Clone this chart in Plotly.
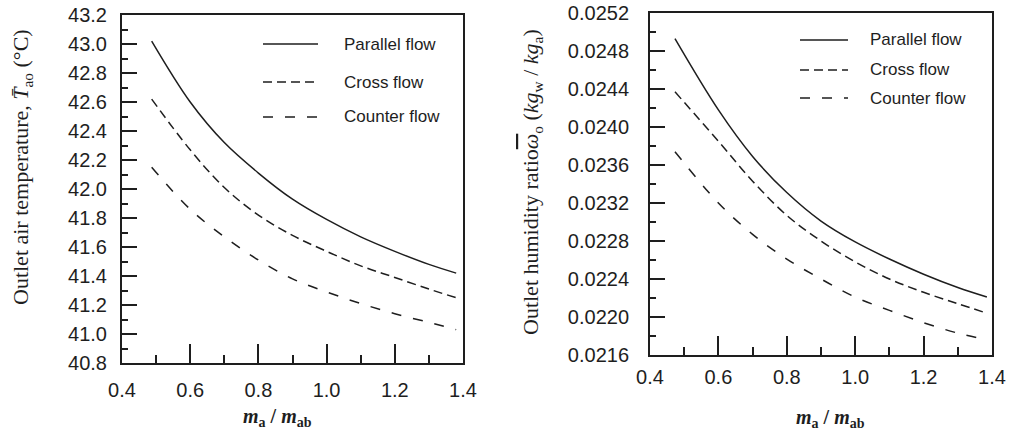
import plotly.graph_objects as go

W, H = 1012, 432

# ---------------- data ----------------
x_left = [0.487, 0.6, 0.7, 0.8, 0.9, 1.0, 1.1, 1.2, 1.3, 1.38]
temp_parallel = [43.02, 42.60, 42.32, 42.11, 41.93, 41.79, 41.67, 41.57, 41.48, 41.42]
temp_cross = [42.62, 42.27, 42.01, 41.82, 41.68, 41.57, 41.47, 41.39, 41.31, 41.25]
temp_counter = [42.15, 41.86, 41.67, 41.51, 41.38, 41.29, 41.21, 41.14, 41.08, 41.03]

x_right = [0.473, 0.6, 0.7, 0.8, 0.9, 1.0, 1.1, 1.2, 1.3, 1.385]
hum_parallel = [0.02493, 0.02418, 0.02369, 0.02331, 0.02301, 0.02279, 0.02261, 0.02245, 0.02231, 0.02221]
hum_cross = [0.02437, 0.02385, 0.02343, 0.02307, 0.02280, 0.02258, 0.02240, 0.02226, 0.02214, 0.02204]
hum_counter = [0.02374, 0.02320, 0.02287, 0.02261, 0.02240, 0.02221, 0.02207, 0.02194, 0.02183, 0.02176]

series_names = ["Parallel flow", "Cross flow", "Counter flow"]
x_title = "<b><i>m</i><sub>a</sub> / <i>m</i><sub>ab</sub></b>"
y_title_left = "Outlet air temperature, <i>T̄</i><sub>ao</sub> (°C)"
y_title_right = ("Outlet humidity ratio<i><span style='text-decoration:overline'>ω</span></i><sub>o</sub>"
                 " (<i>kg</i><sub>w</sub> / <i>kg</i><sub>a</sub>)")

# ---------------- styles ----------------
INK = "#1e1e1e"
dashes = ["solid", "9px,5px", "10px,12px"]
TICKFONT = dict(family="Liberation Sans, Arial, sans-serif", size=20, color=INK)
SERIF = "Liberation Serif, Times New Roman, serif"


def px(x):
    return x / W


def py(y):
    return 1 - y / H


fig = go.Figure()

for ys, name, d in zip([temp_parallel, temp_cross, temp_counter], series_names, dashes):
    fig.add_trace(go.Scatter(x=x_left, y=ys, mode="lines", name=name, showlegend=False,
                             line=dict(color=INK, width=1.5, dash=d, shape="spline"),
                             xaxis="x", yaxis="y"))
for ys, name, d in zip([hum_parallel, hum_cross, hum_counter], series_names, dashes):
    fig.add_trace(go.Scatter(x=x_right, y=ys, mode="lines", name=name, showlegend=False,
                             line=dict(color=INK, width=1.5, dash=d, shape="spline"),
                             xaxis="x2", yaxis="y2"))


def xaxis(domain, anchor, standoff):
    return dict(domain=domain, anchor=anchor, range=[0.4, 1.4], dtick=0.2, tick0=0.4,
                tickformat=".1f", ticks="inside", ticklen=19, tickwidth=2, tickcolor=INK,
                minor=dict(dtick=0.1, tick0=0.4, ticks="inside", ticklen=8, tickwidth=2, tickcolor=INK),
                showline=True, linewidth=2, linecolor=INK, mirror=True,
                showgrid=False, zeroline=False, tickfont=TICKFONT,
                ticklabelstandoff=standoff, automargin=False)


def yaxis(domain, anchor, rng, dt, fmt, mdt, standoff):
    return dict(domain=domain, anchor=anchor, range=rng, dtick=dt, tick0=rng[0],
                tickformat=fmt, ticks="inside", ticklen=15, tickwidth=2, tickcolor=INK,
                minor=dict(dtick=mdt, tick0=rng[0], ticks="inside", ticklen=6, tickwidth=2, tickcolor=INK),
                showline=True, linewidth=2, linecolor=INK, mirror=True,
                showgrid=False, zeroline=False, tickfont=TICKFONT,
                ticklabelstandoff=standoff, automargin=False)


fig.update_layout(
    width=W, height=H,
    margin=dict(l=0, r=0, t=0, b=0),
    paper_bgcolor="white", plot_bgcolor="white",
    xaxis=xaxis([px(122), px(463)], "y", 8),
    yaxis=yaxis([py(363), py(15)], "x", [40.8, 43.2], 0.2, ".1f", 0.1, 9),
    xaxis2=xaxis([px(650), px(992)], "y2", 3),
    yaxis2=yaxis([py(355), py(13)], "x2", [0.0216, 0.0252], 0.0004, ".4f", 0.0002, 15),
)

ann = []
# axis titles
ann.append(dict(text=y_title_left, x=px(22), y=py(167), xref="paper", yref="paper",
                textangle=-90, showarrow=False, xanchor="center", yanchor="middle",
                font=dict(family=SERIF, size=22, color=INK)))
ann.append(dict(text=y_title_right, x=px(532), y=py(182), xref="paper", yref="paper",
                textangle=-90, showarrow=False, xanchor="center", yanchor="middle",
                font=dict(family=SERIF, size=22, color=INK)))
ann.append(dict(text=x_title, x=px(277), y=py(417), xref="paper", yref="paper",
                showarrow=False, xanchor="center", yanchor="middle",
                font=dict(family=SERIF, size=20, color=INK)))
ann.append(dict(text=x_title, x=px(830), y=py(418), xref="paper", yref="paper",
                showarrow=False, xanchor="center", yanchor="middle",
                font=dict(family=SERIF, size=20, color=INK)))

# legends (drawn manually)
shapes = []
legend_specs = [
    dict(x0=263, x1=318, xt=342, rows=[44, 82, 117]),
    dict(x0=800, x1=848, xt=868, rows=[40, 70, 98]),
]
for spec in legend_specs:
    for name, d, yr in zip(series_names, dashes, spec["rows"]):
        shapes.append(dict(type="line", xref="paper", yref="paper",
                           x0=px(spec["x0"]), x1=px(spec["x1"]), y0=py(yr), y1=py(yr),
                           line=dict(color=INK, width=1.5, dash=d)))
        ann.append(dict(text=name, x=px(spec["xt"]), y=py(yr), xref="paper", yref="paper",
                        showarrow=False, xanchor="left", yanchor="middle",
                        font=dict(family="Liberation Sans, Arial, sans-serif", size=17, color=INK)))

fig.update_layout(annotations=ann, shapes=shapes)

fig.write_html("out.html")
